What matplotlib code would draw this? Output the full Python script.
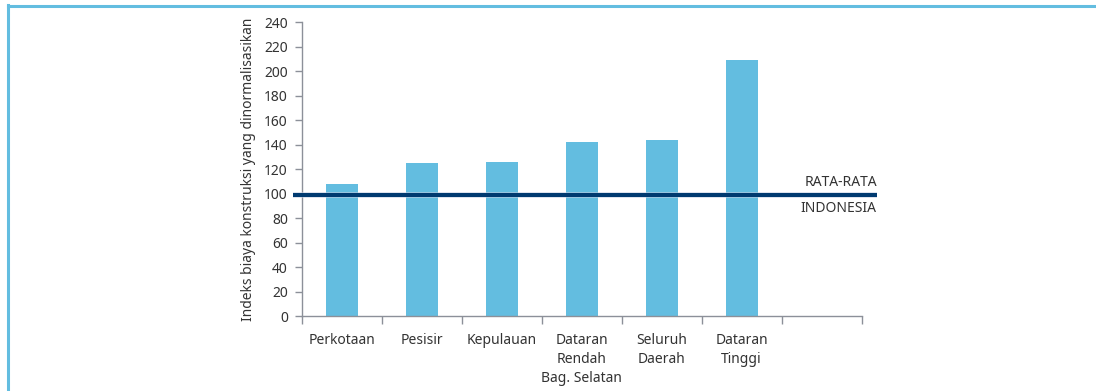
import matplotlib.pyplot as plt
import matplotlib.patheffects as pe
from matplotlib.lines import Line2D

plt.rcParams['font.family'] = ['Noto Sans', 'DejaVu Sans']

categories = ['Perkotaan', 'Pesisir', 'Kepulauan', 'Dataran\nRendah\nBag. Selatan',
              'Seluruh\nDaerah', 'Dataran\nTinggi', '']
values = [108, 125, 126, 142, 144, 209, None]
national_avg = 99
yticks = list(range(0, 241, 20))

bar_color = '#63bde0'
line_color = '#003a70'
axis_color = '#8c9099'
text_color = '#333333'

fig = plt.figure(figsize=(10.96, 3.91), dpi=100)
ax = fig.add_axes([0.2753, 0.1918, 0.5109, 0.7512])

xs = [i for i, v in enumerate(values) if v is not None]
hs = [v for v in values if v is not None]
ax.bar(xs, hs, width=0.4, color=bar_color, zorder=2)

# national average line, running a bit past both ends of the axis
ax.plot([-0.61, 6.69], [national_avg, national_avg], color=line_color, lw=2.9,
        clip_on=False, zorder=3, solid_capstyle='butt',
        path_effects=[pe.Stroke(linewidth=4.2, foreground='#c9d0e3', alpha=0.6), pe.Normal()])
ax.text(6.69, national_avg + 10, 'RATA-RATA', ha='right', va='center',
        fontsize=10, color=text_color)
ax.text(6.69, national_avg - 11, 'INDONESIA', ha='right', va='center',
        fontsize=10, color=text_color)

ax.set_xlim(-0.5, 6.5)
ax.set_ylim(0, 240)
ax.set_yticks(yticks)
ax.set_xticks(range(len(categories)))
ax.set_xticklabels(categories, linespacing=1.4)
ax.set_xticks([i - 0.5 for i in range(len(categories) + 1)], minor=True)
ax.tick_params(axis='x', which='major', length=0, pad=12, labelsize=10, labelcolor=text_color)
ax.tick_params(axis='x', which='minor', length=6, color=axis_color, width=1)
ax.tick_params(axis='y', length=5, color=axis_color, width=1, pad=5,
               labelsize=10, labelcolor=text_color)
for lbl in ax.get_xticklabels():
    lbl.set_verticalalignment('top')

for side in ['top', 'right']:
    ax.spines[side].set_visible(False)
for side in ['left', 'bottom']:
    ax.spines[side].set_color(axis_color)
    ax.spines[side].set_linewidth(1)

ax.set_ylabel('Indeks biaya konstruksi yang dinormalisasikan', fontsize=10,
              color=text_color, labelpad=6)

# frame lines along the top and left edge of the figure
fig.add_artist(Line2D([8 / 1096, 8 / 1096], [0, 1 - 5 / 391], color=bar_color, lw=2.2,
                      transform=fig.transFigure))
fig.add_artist(Line2D([8 / 1096, 1], [1 - 6 / 391, 1 - 6 / 391], color=bar_color, lw=2.2,
                      transform=fig.transFigure))

fig.savefig('out.png', dpi=100)
